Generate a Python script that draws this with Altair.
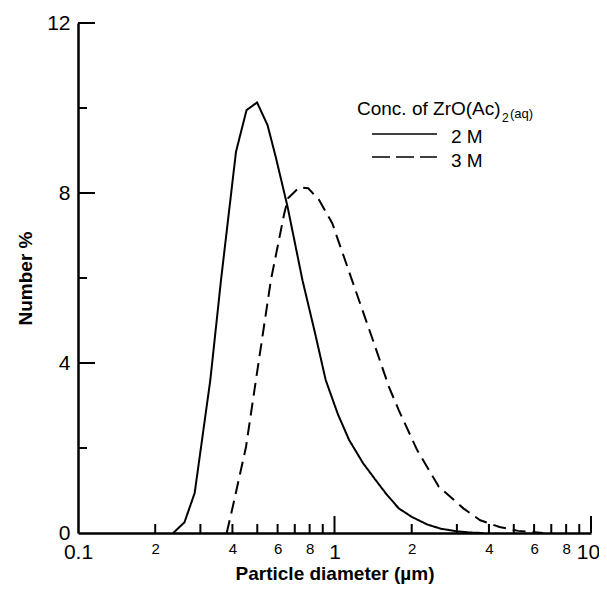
import altair as alt
import pandas as pd

# ---- data ----
x_2M = [0.235, 0.26, 0.285, 0.328, 0.361, 0.413, 0.454, 0.499, 0.548, 0.59, 0.656, 0.75,
        0.84, 0.924, 1.03, 1.14, 1.29, 1.445, 1.6, 1.78, 2.0, 2.3, 2.6, 3.0, 3.4, 3.8]
y_2M = [0.0, 0.25, 0.94, 3.6, 5.95, 8.97, 9.95, 10.13, 9.6, 8.85, 7.68, 5.95,
        4.7, 3.6, 2.8, 2.19, 1.65, 1.25, 0.9, 0.58, 0.38, 0.2, 0.1, 0.04, 0.01, 0.0]

x_3M = [0.38, 0.40, 0.452, 0.494, 0.565, 0.637, 0.66, 0.728, 0.79, 0.87, 0.98, 1.17,
        1.4, 1.63, 1.78, 2.1, 2.55, 3.18, 3.7, 4.4, 5.2, 6.5]
y_3M = [0.0, 0.58, 2.03, 3.6, 5.95, 7.52, 7.88, 8.13, 8.11, 7.84, 7.29, 5.95,
        4.6, 3.44, 2.89, 1.95, 1.09, 0.58, 0.3, 0.14, 0.05, 0.0]

series_names = ["2 M", "3 M"]
x_label_values = [0.1, 0.2, 0.4, 0.6, 0.8, 1, 2, 4, 6, 8, 10]
x_major_ticks = [1, 10]
x_minor_ticks = [0.2, 0.3, 0.4, 0.5, 0.6, 0.7, 0.8, 0.9, 2, 3, 4, 5, 6, 7, 8, 9]
y_label_values = [0, 4, 8, 12]
y_major_ticks = [4, 8, 12]
y_minor_ticks = [2, 6, 10]
legend_title_main = "Conc. of ZrO(Ac)"
legend_title_sub1 = "2"
legend_title_sub2 = "(aq)"

FONT = "Liberation Sans"
W, H = 513, 510

df = pd.concat([
    pd.DataFrame({"x": x_2M, "y": y_2M, "series": series_names[0]}),
    pd.DataFrame({"x": x_3M, "y": y_3M, "series": series_names[1]}),
])

xscale = alt.Scale(type="log", domain=[0.1, 10], nice=False)
yscale = alt.Scale(domain=[0, 12], nice=False, zero=False)

big_test = "datum.value == 0.1 || datum.value == 1 || datum.value == 10"

x_axis = alt.Axis(values=x_label_values, ticks=False, grid=False,
                  domainColor="black", domainWidth=2.5,
                  labelFont=FONT, labelColor="black",
                  labelFontSize={"condition": {"test": big_test, "value": 21}, "value": 15},
                  labelOffset={"condition": {"test": "datum.value == 10", "value": -3}, "value": 0},
                  labelExpr="datum.value == 0.1 ? '0.1' : datum.value < 1 ? format(round(datum.value*10),'d') : format(round(datum.value),'d')",
                  labelOverlap=False, labelFlush=False, labelPadding=8,
                  titleFont=FONT, titleFontSize=19, titleFontWeight="bold",
                  titleColor="black", titlePadding=2)
y_axis = alt.Axis(values=y_label_values, ticks=False, grid=False,
                  domainColor="black", domainWidth=2.5,
                  labelFont=FONT, labelColor="black", labelFontSize=21,
                  labelPadding=8, labelOverlap=False, labelFlush=False,
                  titleFont=FONT, titleFontSize=19, titleFontWeight="bold",
                  titleColor="black", titlePadding=11)

lines = alt.Chart(df).mark_line(color="black", strokeWidth=2).encode(
    x=alt.X("x:Q", scale=xscale, title="Particle diameter (µm)", axis=x_axis),
    y=alt.Y("y:Q", scale=yscale, title="Number %", axis=y_axis),
    strokeDash=alt.StrokeDash("series:N",
                              scale=alt.Scale(domain=series_names, range=[[1, 0], [13, 7]]),
                              legend=None),
)

xmaj = alt.Chart(pd.DataFrame({"x": x_major_ticks})).mark_rule(color="black", strokeWidth=2).encode(
    x=alt.X("x:Q", scale=xscale, title="Particle diameter (µm)", axis=x_axis),
    y=alt.value(H), y2=alt.value(H - 17))
xmin = alt.Chart(pd.DataFrame({"x": x_minor_ticks})).mark_rule(color="black", strokeWidth=2).encode(
    x=alt.X("x:Q", scale=xscale, title="Particle diameter (µm)", axis=x_axis),
    y=alt.value(H), y2=alt.value(H - 9))
ymaj = alt.Chart(pd.DataFrame({"y": y_major_ticks})).mark_rule(color="black", strokeWidth=2).encode(
    y=alt.Y("y:Q", scale=yscale, title="Number %", axis=y_axis),
    x=alt.value(0), x2=alt.value(17))
ymin = alt.Chart(pd.DataFrame({"y": y_minor_ticks})).mark_rule(color="black", strokeWidth=2).encode(
    y=alt.Y("y:Q", scale=yscale, title="Number %", axis=y_axis),
    x=alt.value(0), x2=alt.value(9))

one = pd.DataFrame({"t": [legend_title_main], "s1": [legend_title_sub1], "s2": [legend_title_sub2],
                    "a": [series_names[0]], "b": [series_names[1]]})

leg_title = alt.Chart(one).mark_text(font=FONT, fontSize=19, align="left", baseline="alphabetic", color="black").encode(
    text="t:N", x=alt.value(279), y=alt.value(92))
leg_sub1 = alt.Chart(one).mark_text(font=FONT, fontSize=12, align="left", baseline="alphabetic", color="black").encode(
    text="s1:N", x=alt.value(424), y=alt.value(99))
leg_sub2 = alt.Chart(one).mark_text(font=FONT, fontSize=13, align="left", baseline="alphabetic", color="black").encode(
    text="s2:N", x=alt.value(432), y=alt.value(95))
leg_a_line = alt.Chart(one).mark_rule(color="black", strokeWidth=1.5).encode(
    x=alt.value(294), x2=alt.value(359), y=alt.value(111))
leg_b_line = alt.Chart(one).mark_rule(color="black", strokeWidth=1.5, strokeDash=[18, 6]).encode(
    x=alt.value(294), x2=alt.value(359), y=alt.value(134))
leg_a_text = alt.Chart(one).mark_text(font=FONT, fontSize=19, align="left", baseline="alphabetic", color="black").encode(
    text="a:N", x=alt.value(373), y=alt.value(120))
leg_b_text = alt.Chart(one).mark_text(font=FONT, fontSize=19, align="left", baseline="alphabetic", color="black").encode(
    text="b:N", x=alt.value(373), y=alt.value(144))

chart = alt.layer(
    lines, xmaj, xmin, ymaj, ymin,
    leg_title, leg_sub1, leg_sub2, leg_a_line, leg_b_line, leg_a_text, leg_b_text,
).properties(
    width=W, height=H,
    padding={"left": 70, "top": 15, "right": 8, "bottom": 53},
    autosize=alt.AutoSizeParams(type="none"),
    background="white",
).configure_view(stroke=None)

chart.save("out.html", embed_options={"renderer": "svg", "actions": False})
